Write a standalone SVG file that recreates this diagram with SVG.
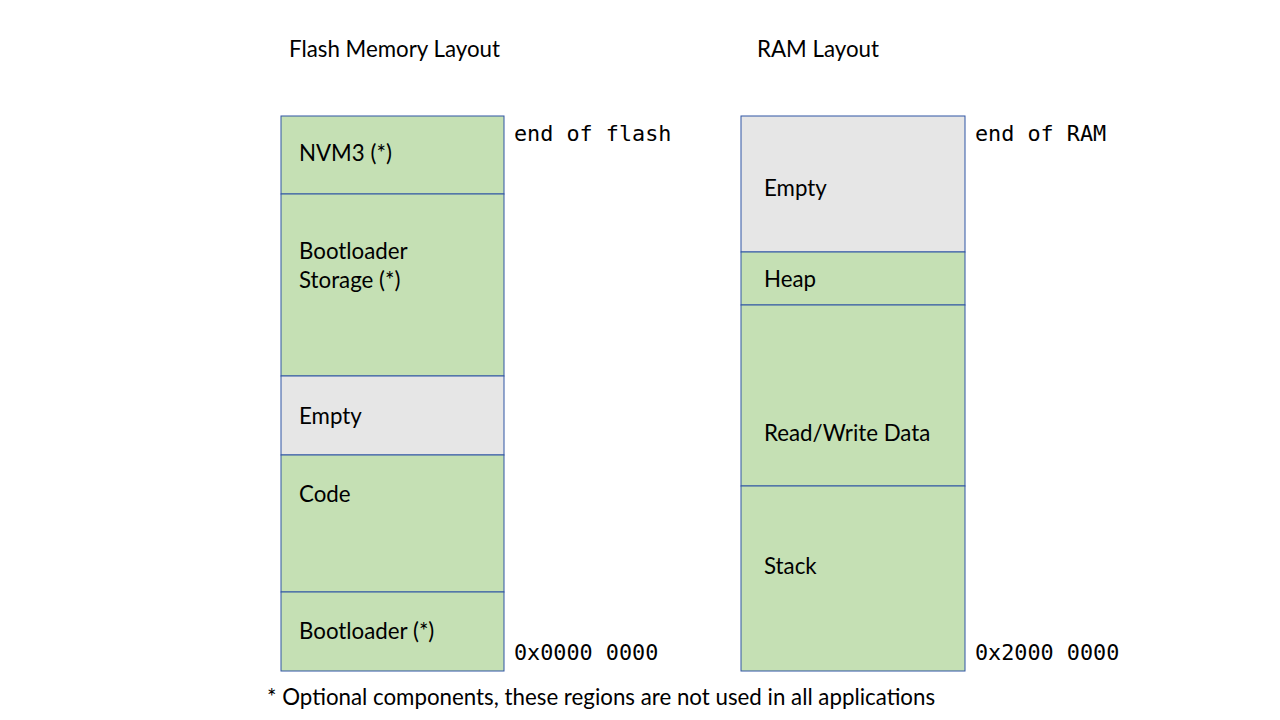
<svg xmlns="http://www.w3.org/2000/svg" width="1280" height="720" viewBox="0 0 1280 720">
<style>
.g{fill:#C5E0B4;stroke:#2F55A4;stroke-width:1}
.e{fill:#E6E6E6;stroke:#2F55A4;stroke-width:1}
.t{font-family:Lato,"Open Sans",sans-serif;font-size:22.3px;fill:#000}
.m{font-family:"DejaVu Sans Mono","Liberation Mono",monospace;font-size:21.8px;fill:#000}
</style>
<rect width="1280" height="720" fill="#fff"/>
<text class="t" x="289" y="57">Flash Memory Layout</text>
<text class="t" x="757" y="57">RAM Layout</text>
<g id="flash">
<g id="nvm3"><rect class="g" x="281" y="116" width="223" height="78"/><text class="t" x="299" y="161">NVM3 (*)</text></g>
<g id="bootstorage"><rect class="g" x="281" y="194" width="223" height="182"/><text class="t" x="299" y="259">Bootloader</text><text class="t" x="299" y="288">Storage (*)</text></g>
<g id="flash-empty"><rect class="e" x="281" y="376" width="223" height="79"/><text class="t" x="299" y="424">Empty</text></g>
<g id="code"><rect class="g" x="281" y="455" width="223" height="137"/><text class="t" x="299" y="502">Code</text></g>
<g id="bootloader"><rect class="g" x="281" y="592" width="223" height="79"/><text class="t" x="299" y="639">Bootloader (*)</text></g>
</g>
<g id="ram">
<g id="ram-empty"><rect class="e" x="741" y="116" width="224" height="136"/><text class="t" x="764" y="196">Empty</text></g>
<g id="heap"><rect class="g" x="741" y="252" width="224" height="53"/><text class="t" x="764" y="287">Heap</text></g>
<g id="rwdata"><rect class="g" x="741" y="305" width="224" height="181"/><text class="t" x="764" y="441">Read/Write Data</text></g>
<g id="stack"><rect class="g" x="741" y="486" width="224" height="185"/><text class="t" x="764" y="574">Stack</text></g>
</g>
<g id="connectors"/>
<text class="m" x="514" y="141">end of flash</text>
<text class="m" x="514" y="660">0x0000 0000</text>
<text class="m" x="975" y="141">end of RAM</text>
<text class="m" x="975" y="660">0x2000 0000</text>
<text class="t" x="267" y="705">* Optional components, these regions are not used in all applications</text>
</svg>
